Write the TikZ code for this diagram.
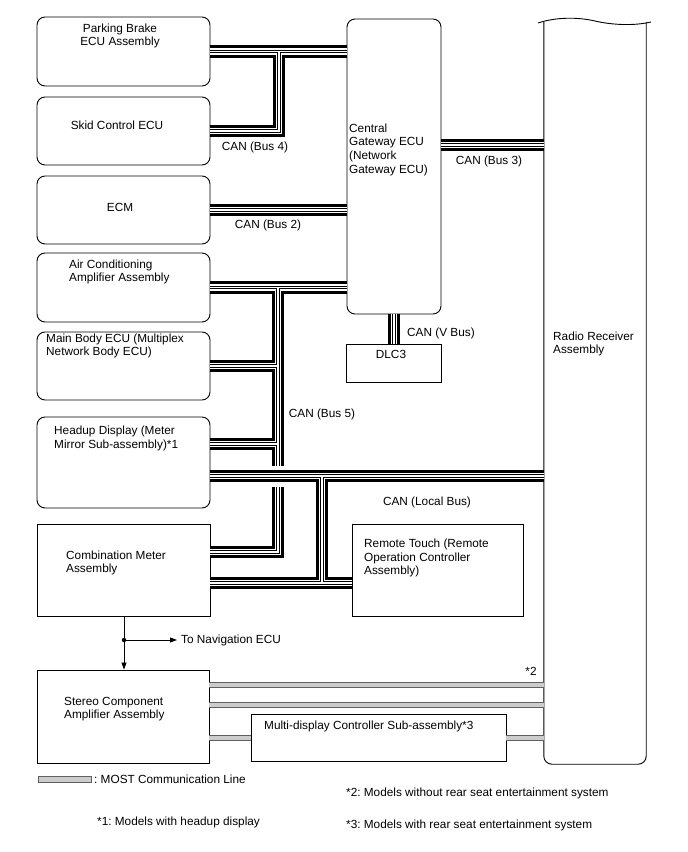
\documentclass[tikz,border=0pt]{standalone}
\usepackage{fontspec}
\setmainfont{Liberation Sans}
\usetikzlibrary{arrows.meta}
\frenchspacing

\tikzset{
  rbox/.style={draw, line width=0.9pt, rounded corners=8pt},
  sbox/.style={draw, line width=0.9pt},
  lbl/.style={inner sep=0pt, align=left, font=\fontsize{11.8}{13.8}\selectfont},
  most/.style={draw=gray!75!black, double=gray!40, line width=1pt, double distance=3.8pt},
  navarrow/.style={-{Triangle[length=7pt,width=5pt]}, line width=0.8pt},
}
\newcommand\canline[1]{\foreach \lw/\lc in {12.4/black,6.6/white,3.4/black,1.4/white}{\draw[line width=\lw pt, draw=\lc] #1;}}

\begin{document}
\begin{tikzpicture}[x=1pt, y=-1pt]
\useasboundingbox (0,0) rectangle (688,852);

\node[rbox, minimum width=173pt, minimum height=69pt] (pb) at (123.5,51.5) {};
\node[rbox, minimum width=173pt, minimum height=68pt] (skid) at (123.5,131) {};
\node[rbox, minimum width=173pt, minimum height=68pt] (ecm) at (123.5,210) {};
\node[rbox, minimum width=173pt, minimum height=69pt] (ac) at (123.5,287.5) {};
\node[rbox, minimum width=173pt, minimum height=68pt] (mb) at (123.5,366) {};
\node[rbox, minimum width=173pt, minimum height=91pt] (hud) at (123.5,462.5) {};
\node[sbox, minimum width=173pt, minimum height=92pt] (cm) at (123.5,570) {};
\node[sbox, minimum width=172pt, minimum height=93pt] (stereo) at (123,716.5) {};
\node[rbox, minimum width=94pt, minimum height=295pt] (gw) at (394,166.5) {};
\node[sbox, minimum width=95pt, minimum height=38pt] (dlc) at (394,363) {};
\node[sbox, minimum width=171pt, minimum height=92pt] (rt) at (437.5,570) {};
\node[sbox, minimum width=255pt, minimum height=47pt] (mdc) at (378.5,738) {};
\node[minimum width=102pt, minimum height=742pt, inner sep=0pt] (radio) at (595,393) {};

\draw[line width=0.9pt, rounded corners=8pt] (radio.north west) |- (radio.south east) -- (radio.north east);
\draw[line width=0.9pt] (538,23) .. controls (556,17) and (578,17) .. (595,21) .. controls (612,25) and (634,26) .. (651,22);

\node[lbl, align=center] (pb-text) at (120,36) {Parking Brake\\ECU Assembly};
\node[lbl] (skid-text) at (117,125) {Skid Control ECU};
\node[lbl] (ecm-text) at (120,207) {ECM};
\node[lbl, anchor=west] (ac-text) at (69,272) {Air Conditioning\\Amplifier Assembly};
\node[lbl, anchor=west] (mb-text) at (46,346) {Main Body ECU (Multiplex\\Network Body ECU)};
\node[lbl, anchor=west] (hud-text) at (54,438.5) {Headup Display (Meter\\Mirror Sub-assembly)*1};
\node[lbl, anchor=west] (cm-text) at (66,563) {Combination Meter\\Assembly};
\node[lbl, anchor=west] (stereo-text) at (64,709) {Stereo Component\\Amplifier Assembly};
\node[lbl, anchor=west] (gw-text) at (349,149.7) {Central\\Gateway ECU\\(Network\\Gateway ECU)};
\node[lbl] (dlc-text) at (391,354) {DLC3};
\node[lbl, anchor=west] (rt-text) at (364,558) {Remote Touch (Remote\\Operation Controller\\Assembly)};
\node[lbl, anchor=west] (mdc-text) at (264,726) {Multi-display Controller Sub-assembly*3};
\node[lbl, anchor=west] (radio-text) at (553,344) {Radio Receiver\\Assembly};

\canline{(pb.east) -- (gw.west |- pb.east) (skid.east) -| (279,51.5)}
\canline{(ecm.east) -- (gw.west |- ecm.east)}
\canline{(gw.east |- 0,145) -- (radio.west |- 0,145)}
\canline{(gw.south) -- (dlc.north)}
\canline{(ac.east) -- (gw.west |- ac.east) (278,287.5) |- (cm.east |- 0,552) (mb.east) -- (278,366) (hud.east |- 0,444) -- (278,444)}
\draw[white, line width=21pt] (270,476) -- (286,476);
\canline{(hud.east |- 0,476) -- (radio.west |- 0,476) (322,476) |- (rt.west |- 0,583) (cm.east |- 0,583) -- (322,583)}

\node[lbl] (bus4) at (255,147) {CAN (Bus 4)};
\node[lbl] (bus2) at (268,225) {CAN (Bus 2)};
\node[lbl] (bus3) at (489,161) {CAN (Bus 3)};
\node[lbl, anchor=west] (vbus) at (407,333) {CAN (V Bus)};
\node[lbl] (bus5) at (322,414) {CAN (Bus 5)};
\node[lbl] (localbus) at (427,502) {CAN (Local Bus)};

\draw[most] (stereo.east |- 0,685) -- (radio.west |- 0,685);
\draw[most] (stereo.east |- 0,705) -- (radio.west |- 0,705);
\draw[most] (stereo.east |- mdc.west) -- (mdc.west);
\draw[most] (mdc.east) -- (radio.west |- mdc.east);
\node[lbl] (note2-mark) at (531,671) {*2};

\coordinate (navdot) at (124,640);
\draw[navarrow] (cm.south -| navdot) -- (stereo.north -| navdot);
\node[lbl, anchor=west] (nav) at (181,640) {To Navigation ECU};
\draw[navarrow, shorten >=4pt] (navdot) -- (nav.west);
\fill (navdot) circle (2.2pt);

\node[draw=gray!75!black, fill=gray!40, minimum width=53pt, minimum height=5.5pt, inner sep=0pt] (mostkey) at (64.5,779) {};
\node[lbl, anchor=west] (mostkey-text) at (94,779) {: MOST Communication Line};
\node[lbl, anchor=west] (note2) at (346,793) {*2: Models without rear seat entertainment system};
\node[lbl, anchor=west] (note1) at (97,822) {*1: Models with headup display};
\node[lbl, anchor=west] (note3) at (346,825) {*3: Models with rear seat entertainment system};
\end{tikzpicture}
\end{document}
